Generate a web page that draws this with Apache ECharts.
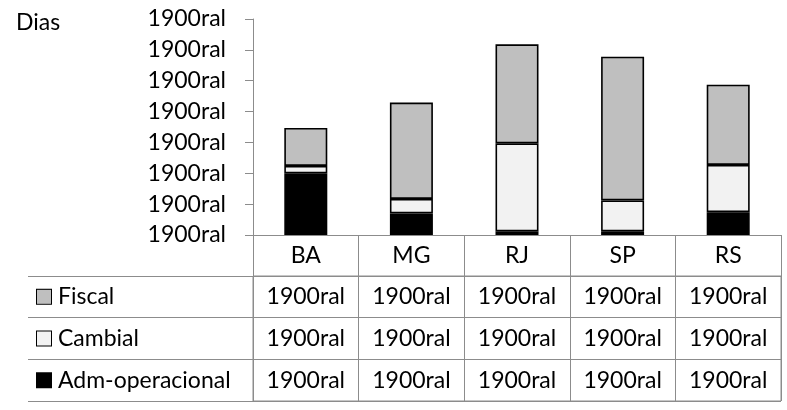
<!DOCTYPE html>
<html>
<head>
<meta charset="utf-8">
<script src="https://cdn.jsdelivr.net/npm/echarts@6/dist/echarts.min.js"></script>
<style>html,body{margin:0;padding:0;background:#fff}#c{width:787px;height:410px}</style>
</head>
<body>
<div id="c"></div>
<script>
// ---- data ----
const categories = ['BA', 'MG', 'RJ', 'SP', 'RS'];
const seriesNames = ['Fiscal', 'Cambial', 'Adm-operacional'];
const admValues = [2.0, 0.70, 0.12, 0.12, 0.74];
const cambialValues = [0.24, 0.47, 2.85, 1.0, 1.53];
const fiscalValues = [1.23, 3.12, 3.21, 4.66, 2.60];
const yTickLabels = ['1900ral', '1900ral', '1900ral', '1900ral', '1900ral', '1900ral', '1900ral', '1900ral'];
const fiscalCells = ['1900ral', '1900ral', '1900ral', '1900ral', '1900ral'];
const cambialCells = ['1900ral', '1900ral', '1900ral', '1900ral', '1900ral'];
const admCells = ['1900ral', '1900ral', '1900ral', '1900ral', '1900ral'];
const yTitle = 'Dias';

// ---- styles ----
const FONT = 'Lato';
const FS = 23;
const LINE = '#8c8c8c';
const colors = { 'Fiscal': '#bfbfbf', 'Cambial': '#f2f2f2', 'Adm-operacional': '#000000' };
const rowCells = [fiscalCells, cambialCells, admCells];

const cellData = [];
rowCells.forEach((row, ri) => row.forEach((t, ci) => cellData.push([ci, ri])));

const chart = echarts.init(document.getElementById('c'), null, { renderer: 'canvas' });

const barSeries = (name, data) => ({
  name, type: 'bar', stack: 'total', data,
  xAxisIndex: 0, yAxisIndex: 0,
  barWidth: 43,
  itemStyle: { color: colors[name], borderColor: '#000', borderWidth: 1.6 },
  emphasis: { disabled: true }
});

const boxStyle = (c) => ({ width: 14, height: 14, backgroundColor: c, borderColor: '#000', borderWidth: 1 });

chart.setOption({
  animation: false,
  textStyle: { fontFamily: FONT },
  title: { text: yTitle, left: 11, top: 6, textStyle: { fontFamily: FONT, fontSize: FS, fontWeight: 'normal', color: '#000' } },
  grid: [
    { left: 253, top: 19, width: 528, height: 216 },
    { left: 253, top: 276, width: 528, height: 125, show: true, borderColor: LINE, borderWidth: 1 }
  ],
  xAxis: [
    {
      type: 'category', gridIndex: 0, data: categories,
      axisLine: { lineStyle: { color: LINE, width: 1 } },
      axisTick: { show: true, interval: 0, length: 41, lineStyle: { color: LINE } },
      axisLabel: { interval: 0, fontFamily: FONT, fontSize: FS, color: '#000', margin: 21, verticalAlign: 'middle' }
    },
    {
      type: 'category', gridIndex: 1, data: categories,
      axisLine: { show: false }, axisTick: { show: false }, axisLabel: { show: false },
      splitLine: { show: true, interval: 0, lineStyle: { color: LINE } }
    }
  ],
  yAxis: [
    {
      type: 'value', gridIndex: 0, min: 0, max: 7, interval: 1,
      axisLine: { show: true, lineStyle: { color: LINE, width: 1 } },
      axisTick: { show: true, length: 8, lineStyle: { color: LINE } },
      splitLine: { show: false },
      axisLabel: { fontFamily: FONT, fontSize: FS, color: '#000', margin: 27,
        formatter: (v) => yTickLabels[Math.round(v)] }
    },
    {
      type: 'category', gridIndex: 1, data: seriesNames, inverse: true,
      axisLine: { show: true, lineStyle: { color: LINE } },
      axisTick: { show: true, interval: 0, length: 225, lineStyle: { color: LINE } },
      splitLine: { show: true, interval: 0, lineStyle: { color: LINE } },
      axisLabel: {
        interval: 0, align: 'left', margin: 216,
        formatter: (name, i) => '{b' + i + '|}{t|' + name + '}',
        rich: {
          b0: boxStyle(colors['Fiscal']),
          b1: boxStyle(colors['Cambial']),
          b2: boxStyle(colors['Adm-operacional']),
          t: { fontFamily: FONT, fontSize: FS, color: '#000', padding: [0, 0, 0, 7] }
        }
      }
    },
    {
      type: 'category', gridIndex: 1, data: seriesNames, inverse: true, offset: 225,
      axisLine: { show: true, lineStyle: { color: LINE } },
      axisTick: { show: false }, axisLabel: { show: false }, splitLine: { show: false }
    }
  ],
  series: [
    barSeries('Adm-operacional', admValues),
    barSeries('Cambial', cambialValues),
    barSeries('Fiscal', fiscalValues),
    {
      type: 'custom', xAxisIndex: 1, yAxisIndex: 1, data: cellData, silent: true,
      renderItem: (params, api) => {
        const ci = api.value(0), ri = api.value(1);
        const p = api.coord([ci, ri]);
        return {
          type: 'text', x: p[0], y: p[1],
          style: { text: rowCells[ri][ci], fill: '#000', font: FS + 'px "' + FONT + '"', align: 'center', verticalAlign: 'middle' }
        };
      }
    }
  ]
});
</script>
</body>
</html>
